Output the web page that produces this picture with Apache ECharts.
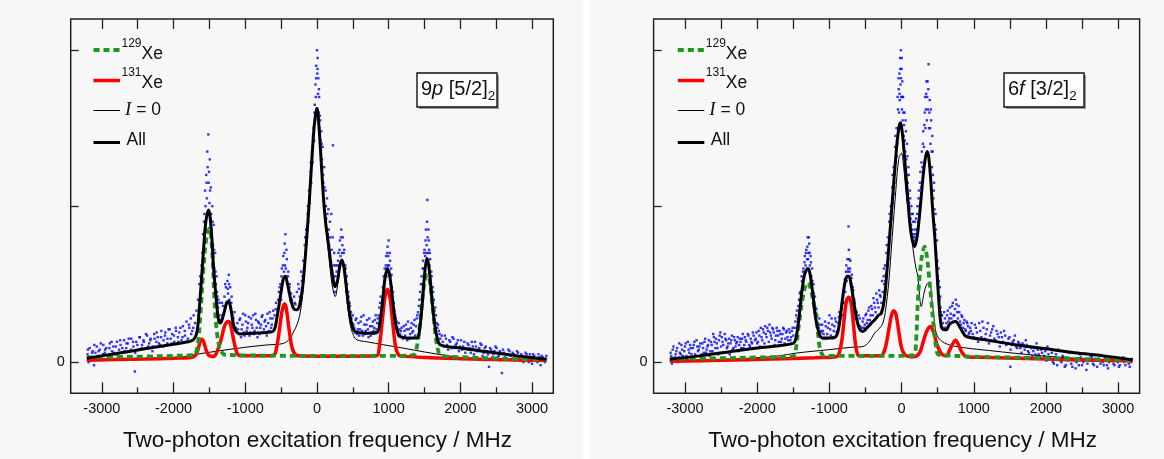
<!DOCTYPE html>
<html>
<head>
<meta charset="utf-8">
<script src="https://cdn.jsdelivr.net/npm/echarts@6/dist/echarts.min.js"></script>
<style>html,body{margin:0;padding:0;background:#fff}#c{width:1164px;height:459px}</style>
</head>
<body>
<div id="c"></div>
<script>
// ---------- tick values ----------
const xMajorTicks = [-3000,-2000,-1000,0,1000,2000,3000];
const xMinorTicks = [-2500,-1500,-500,500,1500,2500];
const xTopTicks = [-3000,-2500,-2000,-1500,-1000,-500,0,500,1000,1500,2000,2500,3000];
const yTicks = [0,1,2];
const yLabelTicks = [0];
const xAxisTitle = 'Two-photon excitation frequency / MHz';
const legendNames = ['129Xe','131Xe','I = 0','All'];

// ---------- panel 1 : 9p[5/2]2 ----------
const p1Dots = [[-3200,0.05],[-3185,0.0],[-3170,0.09],[-3150,0.03],[-3130,0.07],[-3110,-0.02],[-3090,0.06],[-3070,0.1],[-3050,0.04],[-3030,0.08],[-3000,0.02],[-2980,0.11],[-2960,0.06],[-2940,0.09],[-2910,0.04],[-2890,0.12],[-2860,0.07],[-2840,0.1],[-2810,0.05],[-2790,0.13],[-2760,0.08],[-2740,0.11],[-2710,0.06],[-2690,0.14],[-2660,0.09],[-2640,0.12],[-2610,0.07],[-2590,0.15],[-2560,0.1],[-2540,-0.06],[-2520,0.13],[-2490,0.08],[-2470,0.16],[-2440,0.11],[-2420,0.14],[-2390,0.09],[-2370,0.17],[-2340,0.12],[-2320,0.15],[-2290,0.1],[-2270,0.18],[-2240,0.13],[-2220,0.16],[-2190,0.11],[-2170,0.2],[-2140,0.14],[-2120,0.17],[-2090,0.12],[-2070,0.21],[-2040,0.15],[-2020,0.18],[-1990,0.13],[-1970,0.22],[-1940,0.16],[-1920,0.19],[-1890,0.14],[-1870,0.23],[-1840,0.17],[-1820,0.26],[-1800,0.15],[-1780,0.22],[-1760,0.28],[-1740,0.2],[-1720,0.3],
[-1700,0.25],[-1680,0.33],[-1660,0.4],[-1650,0.3],[-1630,0.55],[-1620,0.45],[-1600,0.7],[-1590,0.82],[-1580,0.6],[-1570,0.95],[-1560,1.1],[-1550,0.85],[-1545,1.2],[-1535,1.05],[-1525,1.25],[-1520,0.95],[-1515,1.46],[-1510,1.15],[-1500,1.02],[-1495,1.3],[-1485,0.9],[-1480,1.12],[-1470,0.85],[-1460,1.0],[-1450,0.75],[-1440,0.88],[-1430,0.6],[-1420,0.7],[-1410,0.5],[-1400,0.55],[-1390,0.42],[-1380,0.35],[-1370,0.3],[-1360,0.38],[-1350,0.27],
[-1330,0.3],[-1310,0.36],[-1290,0.42],[-1270,0.48],[-1260,0.38],[-1250,0.52],[-1240,0.44],[-1230,0.56],[-1220,0.4],[-1210,0.48],[-1200,0.35],[-1190,0.42],[-1180,0.3],[-1170,0.26],[-1150,0.32],[-1130,0.22],
[-1110,0.25],[-1090,0.18],[-1070,0.28],[-1050,0.21],[-1030,0.31],[-1010,0.17],[-990,0.26],[-970,0.22],[-950,0.29],[-930,0.19],[-910,0.24],[-890,0.3],[-870,0.2],[-850,0.27],[-830,0.16],[-810,0.25],[-790,0.22],[-770,0.29],[-750,0.19],[-730,0.26],[-710,0.23],[-690,0.31],[-670,0.2],[-650,0.28],[-630,0.24],[-610,0.33],
[-590,0.3],[-570,0.38],[-550,0.33],[-530,0.45],[-510,0.5],[-500,0.4],[-490,0.6],[-480,0.52],[-470,0.68],[-460,0.58],[-450,0.76],[-445,0.62],[-440,0.82],[-430,0.55],[-420,0.66],[-410,0.5],[-400,0.58],[-390,0.45],[-380,0.5],[-370,0.4],[-360,0.44],[-340,0.36],[-320,0.42],[-300,0.37],[-280,0.45],
[-260,0.5],[-240,0.42],[-220,0.58],[-200,0.55],[-190,0.65],[-180,0.6],[-170,0.75],[-160,0.7],[-150,0.85],[-140,0.8],[-130,0.95],[-120,0.9],[-110,1.1],[-100,1.02],[-90,1.22],[-80,1.15],[-70,1.35],[-60,1.28],[-50,1.5],[-40,1.42],[-30,1.65],[-25,1.55],[-20,1.78],[-15,1.7],[-10,1.9],[-5,1.62],[0,2.0],[5,1.85],[10,1.95],[15,1.72],[20,1.82],[25,1.6],[30,1.7],[35,1.5],[40,1.58],[50,1.42],[60,1.48],[70,1.3],[80,1.38],[90,1.15],[100,1.25],[110,1.0],[120,1.1],[130,0.92],[140,1.05],[150,0.82],[160,0.98],[170,0.75],[180,0.9],[190,0.65],[200,0.95],[210,0.56],[220,0.8],[223,1.39],[230,0.5],[240,0.7],[250,0.45],[260,0.62],
[270,0.5],[280,0.62],[290,0.55],[300,0.7],[310,0.62],[320,0.78],[330,0.68],[340,0.85],[350,0.7],[360,0.8],[370,0.62],[380,0.72],[390,0.55],[400,0.6],[410,0.45],[420,0.5],[430,0.38],[440,0.42],[450,0.32],[460,0.36],[480,0.28],[500,0.3],
[520,0.22],[540,0.27],[560,0.18],[580,0.25],[600,0.21],[620,0.29],[640,0.17],[660,0.24],[680,0.2],[700,0.27],[720,0.16],[740,0.23],[760,0.19],[780,0.26],[800,0.22],[820,0.3],[840,0.25],
[860,0.3],[880,0.38],[900,0.33],[920,0.48],[940,0.52],[950,0.45],[960,0.62],[970,0.55],[980,0.7],[990,0.62],[1000,0.78],[1010,0.58],[1020,0.65],[1030,0.5],[1040,0.56],[1050,0.42],[1060,0.45],[1080,0.33],[1100,0.28],[1120,0.22],[1140,0.25],
[1160,0.18],[1180,0.22],[1200,0.15],[1220,0.2],[1240,0.24],[1260,0.14],[1280,0.21],[1300,0.18],[1320,0.25],[1340,0.2],[1360,0.27],[1380,0.23],
[1400,0.3],[1420,0.36],[1440,0.45],[1460,0.55],[1470,0.5],[1480,0.65],[1490,0.6],[1500,0.72],[1510,0.68],[1520,0.85],[1530,0.75],[1540,1.04],[1545,0.8],[1550,0.7],[1560,0.78],[1570,0.62],[1580,0.66],[1590,0.5],[1600,0.55],[1610,0.42],[1620,0.45],[1640,0.33],[1660,0.3],[1680,0.22],[1700,0.2],[1720,0.15],
[1740,0.17],[1770,0.1],[1800,0.15],[1830,0.08],[1860,0.13],[1890,0.16],[1920,0.09],[1950,0.12],[1980,0.07],[2010,0.14],[2040,0.1],[2070,0.06],[2100,0.12],[2130,0.09],[2160,0.13],[2190,0.05],[2220,0.1],[2250,0.08],[2280,0.12],[2310,0.04],[2340,0.09],[2370,0.07],[2400,-0.03],[2430,0.08],[2460,0.05],[2490,0.1],[2520,0.03],[2550,0.07],[2580,-0.07],[2610,0.06],[2640,0.02],[2670,0.08],[2700,0.04],[2730,0.06],[2760,0.01],[2790,0.07],[2820,0.03],[2850,0.05],[2880,0.0],[2910,0.06],[2940,0.02],[2970,0.05],[3000,-0.01],[3030,0.04],[3060,0.01],[3090,0.05],[3120,-0.02],[3150,0.03],[3180,0.0],[3200,0.04]];

const p1DotsExtra = [[-3195,0.08],[-3165,0.02],[-3135,0.06],[-3105,0.11],[-3075,0.03],[-3045,0.07],[-3015,0.12],[-2985,0.05],[-2955,0.08],[-2925,0.02],[-2895,0.09],[-2865,0.13],[-2835,0.06],[-2805,0.1],[-2775,0.04],[-2745,0.14],[-2715,0.09],[-2685,0.07],[-2655,0.12],[-2625,0.15],[-2595,0.08],[-2565,0.13],[-2535,0.06],[-2505,0.11],[-2475,0.16],[-2445,0.09],[-2415,0.13],[-2385,0.18],[-2355,0.1],[-2325,0.14],[-2295,0.07],[-2265,0.15],[-2235,0.19],[-2205,0.12],[-2175,0.16],[-2145,0.1],[-2115,0.19],[-2085,0.15],[-2055,0.21],[-2025,0.12],[-1995,0.17],[-1965,0.2],[-1935,0.13],[-1905,0.22],[-1875,0.16],[-1845,0.2],[-1815,0.13],[-1785,0.24],[-1755,0.18],[-1725,0.22],
[-1640,0.5],[-1610,0.62],[-1575,0.9],[-1555,1.0],[-1540,1.15],[-1530,1.35],[-1505,1.22],[-1490,1.1],[-1475,0.95],[-1455,0.9],[-1435,0.72],[-1415,0.58],[-1395,0.45],[-1375,0.4],[-1325,0.38],[-1280,0.5],[-1245,0.47],[-1225,0.5],[-1195,0.38],[-1165,0.28],
[-1100,0.21],[-1080,0.27],[-1060,0.16],[-1040,0.24],[-1020,0.19],[-1000,0.3],[-980,0.2],[-960,0.25],[-940,0.17],[-920,0.28],[-900,0.22],[-880,0.18],[-860,0.31],[-840,0.22],[-820,0.26],[-800,0.18],[-780,0.24],[-760,0.3],[-740,0.21],[-720,0.27],[-700,0.17],[-680,0.25],[-660,0.32],[-640,0.22],[-620,0.28],
[-575,0.34],[-540,0.4],[-520,0.48],[-495,0.55],[-475,0.62],[-455,0.7],[-435,0.6],[-425,0.72],[-405,0.55],[-385,0.48],[-350,0.4],[-310,0.38],
[-250,0.47],[-210,0.52],[-165,0.8],[-125,1.0],[-85,1.28],[-55,1.45],[-35,1.6],[-12,1.82],[8,1.88],[28,1.75],[45,1.55],[65,1.4],[85,1.2],[105,1.12],[125,1.0],[145,0.95],[165,0.85],[185,0.8],[205,0.72],[235,0.62],[255,0.55],[275,0.58],[295,0.65],[315,0.72],[335,0.8],[355,0.75],[375,0.7],[395,0.62],[415,0.55],[435,0.45],[455,0.38],[475,0.32],[490,0.25],
[510,0.24],[530,0.19],[550,0.28],[570,0.21],[590,0.17],[610,0.26],[630,0.2],[650,0.3],[670,0.18],[690,0.24],[710,0.21],[730,0.28],[750,0.17],[770,0.23],[790,0.2],[810,0.27],[830,0.21],[850,0.28],
[870,0.35],[890,0.42],[910,0.4],[930,0.55],[945,0.6],[965,0.68],[975,0.6],[985,0.74],[995,0.68],[1005,0.62],[1015,0.7],[1025,0.55],[1035,0.6],[1045,0.48],[1070,0.38],[1090,0.3],[1110,0.26],[1130,0.2],[1150,0.21],
[1170,0.2],[1190,0.16],[1210,0.23],[1230,0.17],[1250,0.21],[1270,0.26],[1290,0.15],[1310,0.22],[1330,0.19],[1350,0.24],[1370,0.17],[1390,0.28],
[1410,0.32],[1430,0.4],[1450,0.5],[1475,0.6],[1495,0.7],[1515,0.78],[1525,0.7],[1535,0.9],[1555,0.85],[1565,0.72],[1575,0.7],[1595,0.58],[1615,0.48],[1630,0.4],[1650,0.35],[1670,0.25],[1690,0.24],[1710,0.18],
[1755,0.13],[1785,0.17],[1815,0.11],[1845,0.14],[1875,0.09],[1905,0.15],[1935,0.11],[1965,0.14],[1995,0.1],[2025,0.08],[2055,0.13],[2085,0.09],[2115,0.11],[2145,0.06],[2175,0.1],[2205,0.13],[2235,0.07],[2265,0.09],[2295,0.11],[2325,0.06],[2355,0.1],[2385,0.05],[2415,0.09],[2445,0.03],[2475,0.07],[2505,0.09],[2535,0.04],[2565,0.06],[2595,0.08],[2625,0.03],[2655,0.05],[2685,0.07],[2715,0.02],[2745,0.05],[2775,0.04],[2805,0.06],[2835,0.01],[2865,0.04],[2895,0.03],[2925,0.05],[2955,0.0],[2985,0.03],[3015,0.05],[3045,0.02],[3075,0.0],[3105,0.03],[3135,0.04],[3165,0.01],[3195,0.02]];

const p1All = [[-3210,0.025],[-2800,0.055],[-2400,0.085],[-2000,0.115],[-1800,0.13],[-1720,0.145],[-1675,0.19],[-1640,0.35],[-1600,0.6],[-1582,0.72],[-1550,0.9],[-1512,0.975],[-1490,0.93],[-1460,0.75],[-1443,0.61],[-1400,0.38],[-1373,0.27],[-1349,0.25],[-1300,0.31],[-1260,0.38],[-1233,0.39],[-1200,0.34],[-1160,0.23],[-1116,0.19],[-1050,0.18],[-900,0.185],[-700,0.19],[-605,0.2],[-560,0.28],[-510,0.42],[-470,0.53],[-442,0.55],[-410,0.5],[-360,0.39],[-320,0.34],[-279,0.335],[-240,0.37],[-200,0.48],[-150,0.75],[-100,1.08],[-60,1.38],[-30,1.55],[0,1.627],[30,1.5],[60,1.28],[93,1.04],[120,0.9],[140,0.826],[170,0.72],[210,0.58],[255,0.484],[290,0.53],[320,0.62],[349,0.655],[380,0.6],[420,0.44],[460,0.3],[511,0.207],[570,0.19],[700,0.185],[837,0.19],[880,0.26],[920,0.41],[950,0.54],[986,0.6],[1020,0.54],[1060,0.38],[1100,0.24],[1140,0.17],[1163,0.164],[1250,0.155],[1395,0.154],[1430,0.2],[1470,0.38],[1505,0.58],[1535,0.666],[1565,0.6],[1600,0.42],[1640,0.25],[1680,0.15],[1721,0.111],[2000,0.09],[2400,0.065],[2800,0.04],[3200,0.018]];

const p1I0 = [[-3210,0.008],[-2800,0.012],[-2400,0.018],[-2000,0.025],[-1720,0.047],[-1400,0.07],[-1000,0.095],[-700,0.11],[-466,0.12],[-380,0.15],[-320,0.2],[-279,0.24],[-240,0.3],[-200,0.43],[-150,0.72],[-100,1.06],[-60,1.37],[-30,1.54],[0,1.62],[30,1.49],[60,1.27],[93,1.03],[120,0.88],[140,0.8],[170,0.66],[210,0.5],[255,0.42],[290,0.5],[320,0.6],[349,0.64],[380,0.57],[420,0.4],[460,0.25],[511,0.17],[558,0.143],[700,0.13],[930,0.111],[1200,0.09],[1500,0.065],[1767,0.045],[2000,0.03],[2400,0.018],[2800,0.01],[3200,0.005]];

const p1Xe131 = [[-3210,0.012],[-2800,0.016],[-2400,0.02],[-2000,0.025],[-1760,0.03],[-1700,0.04],[-1660,0.08],[-1630,0.13],[-1605,0.147],[-1580,0.13],[-1540,0.07],[-1500,0.04],[-1443,0.036],[-1400,0.06],[-1340,0.14],[-1290,0.23],[-1260,0.255],[-1233,0.26],[-1205,0.24],[-1170,0.16],[-1130,0.08],[-1093,0.045],[-1000,0.04],[-700,0.04],[-600,0.045],[-560,0.1],[-520,0.22],[-490,0.32],[-465,0.365],[-452,0.373],[-430,0.35],[-400,0.25],[-360,0.12],[-320,0.06],[-256,0.04],[0,0.038],[500,0.038],[830,0.04],[870,0.1],[910,0.26],[950,0.42],[986,0.467],[1020,0.41],[1060,0.24],[1100,0.09],[1140,0.045],[1163,0.04],[1500,0.03],[2000,0.022],[2600,0.015],[3200,0.01]];

const p1Xe129 = [[-3210,0.03],[-2800,0.033],[-2400,0.036],[-2000,0.04],[-1750,0.045],[-1700,0.05],[-1660,0.12],[-1628,0.29],[-1582,0.61],[-1540,0.8],[-1499,0.858],[-1460,0.7],[-1430,0.4],[-1395,0.19],[-1350,0.08],[-1300,0.05],[-1279,0.047],[-1000,0.043],[0,0.04],[1000,0.04],[1340,0.045],[1390,0.09],[1430,0.22],[1470,0.4],[1510,0.54],[1544,0.559],[1580,0.5],[1620,0.33],[1660,0.15],[1700,0.06],[1740,0.04],[2000,0.032],[2600,0.022],[3200,0.015]];

// ---------- panel 2 : 6f[3/2]2 ----------
const p2Dots = [[-3200,0.06],[-3180,-0.01],[-3160,0.1],[-3140,0.03],[-3120,0.07],[-3100,0.0],[-3080,0.12],[-3060,0.05],[-3040,0.08],[-3020,0.02],[-3000,0.1],[-2980,0.04],[-2960,0.13],[-2940,0.06],[-2920,0.09],[-2900,0.01],[-2880,0.11],[-2860,0.05],[-2840,0.14],[-2820,0.07],[-2800,0.1],[-2780,0.03],[-2760,0.12],[-2740,0.06],[-2720,0.15],[-2700,0.08],[-2680,0.11],[-2660,0.04],[-2640,0.13],[-2620,0.07],[-2600,0.16],[-2580,0.09],[-2560,0.12],[-2540,0.05],[-2520,0.17],[-2500,0.1],[-2480,0.13],[-2460,0.06],[-2440,0.15],[-2420,0.09],[-2400,0.12],[-2380,0.05],[-2360,0.14],[-2340,0.08],[-2320,0.16],[-2300,0.1],[-2280,0.13],[-2260,0.07],[-2240,0.15],[-2220,0.09],[-2200,0.18],[-2180,0.11],[-2160,0.14],[-2140,0.08],[-2120,0.17],[-2100,0.1],[-2080,0.13],[-2060,0.19],[-2040,0.09],[-2020,0.15],[-2000,0.12],[-1980,0.2],[-1960,0.1],[-1940,0.16],[-1920,0.21],[-1900,0.12],[-1880,0.18],[-1860,0.22],[-1840,0.13],[-1820,0.19],[-1800,0.15],[-1780,0.21],[-1760,0.11],[-1740,0.17],[-1720,0.2],[-1700,0.13],[-1680,0.18],[-1660,0.15],[-1640,0.22],[-1620,0.12],[-1600,0.19],[-1580,0.16],[-1560,0.21],[-1540,0.14],[-1520,0.2],[-1500,0.17],
[-1480,0.22],[-1460,0.3],[-1440,0.28],[-1420,0.4],[-1400,0.45],[-1390,0.38],[-1380,0.52],[-1370,0.48],[-1360,0.6],[-1350,0.55],[-1340,0.68],[-1330,0.62],[-1320,0.72],[-1310,0.66],[-1300,0.8],[-1290,0.7],[-1280,0.76],[-1270,0.62],[-1260,0.68],[-1250,0.55],[-1240,0.6],[-1230,0.45],[-1220,0.5],[-1210,0.38],[-1200,0.42],[-1190,0.3],[-1180,0.34],[-1160,0.25],[-1140,0.28],[-1120,0.2],[-1100,0.24],
[-1080,0.18],[-1060,0.26],[-1040,0.15],[-1020,0.22],[-1000,0.3],[-980,0.17],[-960,0.24],[-940,0.2],[-920,0.28],[-900,0.19],[-880,0.25],[-860,0.32],
[-850,0.28],[-830,0.34],[-820,0.3],[-810,0.42],[-800,0.38],[-790,0.5],[-780,0.45],[-770,0.58],[-760,0.52],[-750,0.66],[-740,0.6],[-735,0.87],[-730,0.72],[-720,0.58],[-710,0.65],[-700,0.5],[-690,0.56],[-680,0.42],[-670,0.46],[-660,0.35],[-650,0.38],[-640,0.28],[-620,0.32],[-600,0.24],[-580,0.28],[-560,0.2],
[-540,0.26],[-520,0.22],[-500,0.3],[-480,0.25],[-460,0.33],[-440,0.27],[-420,0.36],[-400,0.3],[-380,0.38],[-360,0.32],[-340,0.4],[-320,0.35],[-300,0.43],[-280,0.38],
[-260,0.45],[-250,0.55],[-240,0.5],[-230,0.62],[-220,0.56],[-210,0.7],[-200,0.62],[-190,0.8],[-180,0.72],[-170,0.9],[-160,0.82],[-150,1.0],[-140,0.92],[-130,1.12],[-120,1.02],[-110,1.25],[-100,1.15],[-90,1.38],[-80,1.28],[-70,1.5],[-60,1.4],[-50,1.62],[-45,1.5],[-40,1.75],[-35,1.6],[-30,1.85],[-25,1.68],[-20,1.95],[-15,1.78],[-10,2.0],[-5,1.7],[0,1.88],[5,1.62],[10,1.8],[15,1.55],[20,1.7],[30,1.45],[40,1.6],[50,1.35],[60,1.48],[70,1.2],[80,1.32],[90,1.08],[100,1.2],[110,0.98],[120,1.05],[130,0.88],[140,0.95],[150,0.8],[160,0.9],[170,0.75],[180,0.85],[190,0.78],[200,0.92],
[210,0.85],[220,1.0],[230,0.9],[240,1.1],[250,1.0],[260,1.22],[270,1.12],[280,1.35],[290,1.25],[300,1.48],[310,1.38],[320,1.6],[330,1.5],[340,1.72],[350,1.55],[360,1.8],[365,1.62],[374,1.91],[380,1.5],[390,1.68],[400,1.4],[410,1.55],[420,1.25],[430,1.35],[440,1.05],[450,1.15],[460,0.88],[470,0.95],[480,0.7],[490,0.78],[500,0.55],[510,0.6],[520,0.42],[530,0.48],[540,0.35],[550,0.3],
[570,0.25],[590,0.32],[610,0.22],[630,0.3],[650,0.26],[670,0.35],[690,0.28],[710,0.38],[730,0.3],[750,0.4],[770,0.32],[790,0.36],[810,0.26],[830,0.3],[850,0.22],[870,0.27],[890,0.2],[910,0.25],[930,0.18],[950,0.22],
[970,0.25],[1000,0.16],[1030,0.22],[1060,0.13],[1090,0.2],[1120,0.26],[1150,0.15],[1180,0.21],[1210,0.12],[1240,0.19],[1270,0.23],[1300,0.14],[1330,0.18],[1360,0.1],[1390,0.16],[1420,0.2],[1450,0.11],[1480,0.15],[1506,-0.03],[1510,0.08],[1540,0.13],[1570,0.17],[1600,0.09],[1630,0.12],[1660,0.06],[1690,0.11],[1720,0.14],[1750,0.07],[1780,0.1],[1810,0.04],[1840,0.09],[1870,0.12],[1900,0.05],[1930,0.08],[1960,0.02],[1990,0.07],[2020,0.1],[2050,0.03],[2080,0.06],[2110,-0.01],[2140,0.05],[2170,0.08],[2200,0.01],[2230,0.04],[2260,-0.03],[2290,0.03],[2320,0.06],[2350,-0.01],[2380,0.02],[2410,-0.04],[2440,0.02],[2470,0.05],[2500,-0.02],[2530,0.01],[2560,-0.05],[2590,0.02],[2620,0.04],[2650,-0.01],[2680,0.02],[2710,-0.03],[2740,0.01],[2770,0.04],[2800,-0.02],[2830,0.02],[2860,-0.04],[2890,0.01],[2920,0.03],[2950,-0.02],[2980,0.01],[3010,-0.03],[3040,0.02],[3070,0.03],[3100,-0.02],[3130,0.01],[3160,-0.03],[3190,0.02]];

const p2DotsExtra = [[-3190,0.04],[-3170,0.08],[-3150,0.01],[-3130,0.05],[-3110,0.09],[-3090,0.03],[-3070,0.06],[-3050,0.11],[-3030,0.04],[-3010,0.07],[-2990,0.12],[-2970,0.02],[-2950,0.08],[-2930,0.11],[-2910,0.05],[-2890,0.09],[-2870,0.13],[-2850,0.04],[-2830,0.1],[-2810,0.08],[-2790,0.12],[-2770,0.05],[-2750,0.09],[-2730,0.13],[-2710,0.06],[-2690,0.1],[-2670,0.14],[-2650,0.07],[-2630,0.11],[-2610,0.18],[-2590,0.13],[-2570,0.15],[-2550,0.09],[-2530,0.14],[-2510,0.19],[-2490,0.16],[-2470,0.11],[-2450,0.18],[-2430,0.14],[-2410,0.1],[-2390,0.15],[-2370,0.12],[-2350,0.17],[-2330,0.09],[-2310,0.14],[-2290,0.12],[-2270,0.16],[-2250,0.11],[-2230,0.13],[-2210,0.15],[-2190,0.09],[-2170,0.16],[-2150,0.13],[-2130,0.18],[-2110,0.11],[-2090,0.15],[-2070,0.12],[-2050,0.17],[-2030,0.14],[-2010,0.19],[-1990,0.13],[-1970,0.17],[-1950,0.22],[-1930,0.14],[-1910,0.19],[-1890,0.23],[-1870,0.16],[-1850,0.2],[-1830,0.24],[-1810,0.17],[-1790,0.22],[-1770,0.19],[-1750,0.14],[-1730,0.22],[-1710,0.17],[-1690,0.2],[-1670,0.13],[-1650,0.18],[-1630,0.21],[-1610,0.15],[-1590,0.2],[-1570,0.14],[-1550,0.19],[-1530,0.16],[-1510,0.22],
[-1470,0.26],[-1450,0.33],[-1430,0.36],[-1410,0.44],[-1385,0.55],[-1365,0.58],[-1345,0.64],[-1325,0.7],[-1305,0.74],[-1295,0.66],[-1285,0.8],[-1275,0.7],[-1255,0.64],[-1235,0.52],[-1215,0.44],[-1195,0.35],[-1170,0.3],[-1150,0.22],[-1130,0.24],[-1110,0.19],
[-1090,0.2],[-1070,0.15],[-1050,0.23],[-1030,0.18],[-1010,0.25],[-990,0.21],[-970,0.28],[-950,0.16],[-930,0.23],[-910,0.26],[-890,0.2],[-870,0.29],
[-845,0.31],[-825,0.37],[-805,0.46],[-785,0.53],[-765,0.62],[-745,0.58],[-725,0.66],[-715,0.6],[-695,0.54],[-675,0.48],[-655,0.4],[-635,0.33],[-615,0.27],[-595,0.3],[-575,0.23],
[-550,0.22],[-530,0.28],[-510,0.24],[-490,0.31],[-470,0.27],[-450,0.35],[-430,0.3],[-410,0.34],[-390,0.41],[-370,0.35],[-350,0.44],[-330,0.38],[-310,0.46],[-290,0.42],[-270,0.52],
[-245,0.6],[-225,0.52],[-205,0.75],[-185,0.66],[-165,0.95],[-145,0.88],[-125,1.2],[-105,1.08],[-85,1.45],[-65,1.32],[-55,1.7],[-42,1.82],[-28,1.72],[-18,1.88],[-8,1.82],[2,1.95],[12,1.7],[25,1.6],[35,1.52],[45,1.42],[55,1.55],[65,1.3],[75,1.4],[85,1.15],[95,1.25],[105,1.02],[115,1.1],[125,0.92],[135,1.0],[145,0.85],[155,0.95],[165,0.82],[175,0.8],[185,0.9],[195,0.82],
[215,0.95],[235,1.05],[255,1.15],[275,1.28],[295,1.4],[315,1.52],[325,1.7],[335,1.62],[345,1.8],[355,1.7],[370,1.75],[385,1.6],[395,1.5],[405,1.62],[415,1.35],[425,1.45],[435,1.2],[445,1.1],[455,0.98],[465,0.82],[475,0.85],[485,0.62],[495,0.65],[505,0.5],[515,0.52],[525,0.4],[535,0.42],[545,0.32],
[560,0.3],[580,0.22],[600,0.28],[620,0.25],[640,0.33],[660,0.28],[680,0.31],[700,0.36],[720,0.3],[740,0.34],[760,0.37],[780,0.28],[800,0.32],[820,0.24],[840,0.29],[860,0.25],[880,0.21],[900,0.26],[920,0.23],[940,0.19],[960,0.2],
[985,0.18],[1015,0.24],[1045,0.19],[1075,0.25],[1105,0.16],[1135,0.22],[1165,0.18],[1195,0.25],[1225,0.17],[1255,0.21],[1285,0.15],[1315,0.2],[1345,0.16],[1375,0.19],[1405,0.13],[1435,0.17],[1465,0.12],[1495,0.16],[1525,0.11],[1555,0.14],[1585,0.1],[1615,0.13],[1645,0.09],[1675,0.12],[1705,0.08],[1735,0.11],[1765,0.06],[1795,0.09],[1825,0.07],[1855,0.05],[1885,0.08],[1915,0.03],[1945,0.06],[1975,0.04],[2005,0.01],[2035,0.05],[2065,0.02],[2095,0.0],[2125,0.03],[2155,-0.02],[2185,0.02],[2215,0.0],[2245,0.03],[2275,-0.02],[2305,0.01],[2335,0.02],[2365,-0.03],[2395,0.01],[2425,0.0],[2455,-0.02],[2485,0.03],[2515,0.0],[2545,0.02],[2575,-0.01],[2605,0.01],[2635,0.03],[2665,-0.02],[2695,0.01],[2725,0.02],[2755,-0.01],[2785,0.0],[2815,0.03],[2845,-0.02],[2875,0.0],[2905,0.02],[2935,-0.01],[2965,0.02],[2995,0.0],[3025,-0.02],[3055,0.01],[3085,0.0],[3115,0.02],[3145,-0.01],[3175,0.0]];

const p2All = [[-3210,0.019],[-2800,0.04],[-2400,0.065],[-2000,0.09],[-1700,0.105],[-1505,0.12],[-1470,0.14],[-1430,0.25],[-1390,0.42],[-1350,0.55],[-1320,0.59],[-1297,0.6],[-1270,0.57],[-1230,0.44],[-1190,0.28],[-1140,0.18],[-1100,0.155],[-1066,0.154],[-960,0.155],[-900,0.17],[-860,0.25],[-820,0.4],[-780,0.52],[-750,0.55],[-730,0.55],[-700,0.5],[-660,0.38],[-620,0.27],[-580,0.21],[-536,0.196],[-480,0.22],[-420,0.25],[-374,0.27],[-320,0.3],[-281,0.314],[-240,0.4],[-200,0.6],[-150,0.9],[-100,1.2],[-60,1.42],[-30,1.52],[-14,1.535],[10,1.47],[40,1.32],[87,1.04],[130,0.83],[180,0.74],[220,0.82],[260,1.0],[300,1.2],[330,1.31],[356,1.35],[390,1.25],[430,0.98],[460,0.8],[480,0.655],[515,0.4],[550,0.228],[585,0.207],[619,0.207],[660,0.24],[700,0.255],[748,0.26],[800,0.23],[850,0.19],[896,0.164],[1200,0.14],[1600,0.11],[2000,0.085],[2400,0.06],[2800,0.04],[3200,0.015]];

const p2I0 = [[-3210,0.005],[-2800,0.01],[-2400,0.018],[-2000,0.028],[-1700,0.04],[-1459,0.058],[-1000,0.08],[-700,0.095],[-536,0.1],[-450,0.13],[-374,0.186],[-300,0.22],[-259,0.25],[-220,0.34],[-180,0.5],[-130,0.8],[-80,1.1],[-40,1.3],[-4,1.34],[30,1.25],[70,1.05],[111,0.93],[160,0.72],[200,0.6],[226,0.55],[250,0.42],[272,0.356],[310,0.44],[350,0.5],[388,0.506],[420,0.4],[450,0.28],[480,0.186],[540,0.14],[665,0.11],[900,0.09],[1200,0.075],[1600,0.055],[2050,0.036],[2500,0.022],[2900,0.012],[3200,0.005]];

const p2Xe131 = [[-3210,0.005],[-2500,0.012],[-1800,0.02],[-1200,0.028],[-900,0.035],[-870,0.05],[-830,0.13],[-790,0.3],[-760,0.4],[-730,0.416],[-700,0.38],[-670,0.26],[-640,0.12],[-610,0.05],[-580,0.04],[-300,0.04],[-260,0.05],[-220,0.1],[-180,0.2],[-140,0.3],[-111,0.33],[-80,0.31],[-40,0.2],[0,0.09],[50,0.045],[120,0.035],[180,0.036],[250,0.06],[300,0.13],[350,0.2],[402,0.228],[450,0.18],[500,0.1],[560,0.05],[619,0.04],[660,0.07],[700,0.11],[748,0.14],[790,0.11],[840,0.06],[900,0.035],[1200,0.03],[2000,0.02],[2700,0.012],[3200,0.008]];

const p2Xe129 = [[-3210,0.02],[-2500,0.025],[-2000,0.03],[-1520,0.035],[-1480,0.05],[-1459,0.1],[-1420,0.25],[-1367,0.42],[-1330,0.49],[-1297,0.51],[-1260,0.47],[-1220,0.38],[-1182,0.29],[-1150,0.15],[-1136,0.1],[-1100,0.05],[-1066,0.04],[-500,0.04],[0,0.04],[166,0.045],[200,0.13],[226,0.4],[260,0.6],[290,0.7],[319,0.74],[350,0.68],[380,0.55],[411,0.4],[450,0.2],[480,0.09],[503,0.05],[550,0.045],[1000,0.035],[2000,0.025],[3200,0.012]];

const panelLabels = [
  {main1:'9', it:'p', main2:' [5/2]', sub:'2'},
  {main1:'6', it:'f', main2:' [3/2]', sub:'2'}
];

// ---------- layout ----------
const FONT = '"Liberation Sans", Arial, sans-serif';
const XMIN = -3435, XMAX = 3297;
const grids = [
  {left: 70.7, top: 19, width: 482.6, height: 374.3},
  {left: 653.6, top: 19, width: 486, height: 374.3}
];
const GREEN = '#1f961f', RED = '#ff0000', BLUE = '#0000ff';

function xAxesFor(g, titlePad) {
  const base = {type:'value', gridIndex:g, min:XMIN, max:XMAX, splitLine:{show:false}, axisLine:{show:false, onZero:false}};
  return [
    Object.assign({}, base, {
      position:'bottom',
      axisTick:{show:true, inside:true, length:11, customValues:xMajorTicks, lineStyle:{color:'#222', width:1.3}},
      axisLabel:{show:true, customValues:xMajorTicks, margin:8, fontSize:14.5, color:'#111', fontFamily:FONT, formatter: v => String(v)},
      name:xAxisTitle, nameLocation:'middle', nameGap:36,
      nameTextStyle:{fontSize:22.5, color:'#111', fontFamily:FONT, padding:[0,0,0,titlePad]}
    }),
    Object.assign({}, base, {
      position:'bottom',
      axisTick:{show:true, inside:true, length:6, customValues:xMinorTicks, lineStyle:{color:'#222', width:1.3}},
      axisLabel:{show:false}
    }),
    Object.assign({}, base, {
      position:'top',
      axisTick:{show:true, inside:true, length:10, customValues:xTopTicks, lineStyle:{color:'#222', width:1.3}},
      axisLabel:{show:false}
    })
  ];
}
function yAxisFor(g) {
  return {type:'value', gridIndex:g, position:'left', min:-0.2, max:2.2, splitLine:{show:false}, axisLine:{show:false, onZero:false},
    axisTick:{show:true, inside:true, length:8, customValues:yTicks, lineStyle:{color:'#222', width:1.3}},
    axisLabel:{show:true, customValues:yLabelTicks, margin:6, fontSize:14.5, color:'#111', fontFamily:FONT, formatter: v => String(v)}};
}
function seriesFor(g, dots, i0, x131, x129, all) {
  const xi = g*3, yi = g;
  return [
    {type:'scatter', name:'data', xAxisIndex:xi, yAxisIndex:yi, data:dots, symbol:'rect', symbolSize:2.4,
      itemStyle:{color:BLUE}, z:1, silent:true},
    {type:'line', name:legendNames[2], xAxisIndex:xi, yAxisIndex:yi, data:i0, showSymbol:false, smooth:0.35,
      lineStyle:{color:'#000', width:1}, z:2},
    {type:'line', name:legendNames[1], xAxisIndex:xi, yAxisIndex:yi, data:x131, showSymbol:false, smooth:0.35,
      lineStyle:{color:RED, width:3.5}, z:3},
    {type:'line', name:legendNames[0], xAxisIndex:xi, yAxisIndex:yi, data:x129, showSymbol:false, smooth:0.35,
      lineStyle:{color:GREEN, width:3.8, type:[6,4]}, z:4},
    {type:'line', name:legendNames[3], xAxisIndex:xi, yAxisIndex:yi, data:all, showSymbol:false, smooth:0.35,
      lineStyle:{color:'#000', width:3}, z:5}
  ];
}
function legendGraphics(dx) {
  const items = [];
  const lx0 = 93.5 + dx, lx1 = 120 + dx;
  const rows = [
    {y:50, stroke:GREEN, w:3.8, dash:[6,4], text:'{s|129}{n|Xe}', ty:54.5, tx:121.5},
    {y:80.5, stroke:RED, w:3.5, dash:null, text:'{s|131}{n|Xe}', ty:83, tx:121.5},
    {y:110.5, stroke:'#000', w:1, dash:null, text:'{i|I}{n| = 0}', ty:110, tx:125},
    {y:142.5, stroke:'#000', w:3, dash:null, text:'{n|All}', ty:140.3, tx:126.5}
  ];
  rows.forEach(r => {
    items.push({type:'line', z:100, shape:{x1:lx0, y1:r.y, x2:lx1, y2:r.y},
      style:{stroke:r.stroke, lineWidth:r.w, lineDash:r.dash || null}});
    items.push({type:'text', z:100, x:r.tx + dx, y:r.ty, style:{
      text:r.text, textVerticalAlign:'middle', textAlign:'left', fill:'#111',
      rich:{
        n:{fontSize:17.5, fontFamily:FONT, fill:'#111'},
        s:{fontSize:12, fontFamily:FONT, fill:'#111', padding:[0,0,21,0]},
        i:{fontSize:19, fontFamily:'"Liberation Serif", "Times New Roman", serif', fontStyle:'italic', fill:'#111'}
      }}});
  });
  return items;
}
function boxGraphics(x, lab) {
  const y = 73, w = 80, h = 34;
  const t = '{n|' + lab.main1 + '}{i|' + lab.it + '}{n|' + lab.main2 + '}{b|' + lab.sub + '}';
  return [
    {type:'rect', z:99, shape:{x:x+2, y:y+2, width:w, height:h}, style:{fill:'#9a9a9a'}},
    {type:'rect', z:100, shape:{x:x, y:y, width:w, height:h}, style:{fill:'#fdfdfd', stroke:'#111', lineWidth:1.4}},
    {type:'text', z:101, x:x+4, y:y+16.5, style:{text:t, textVerticalAlign:'middle', textAlign:'left',
      rich:{
        n:{fontSize:20, fontFamily:FONT, fill:'#111'},
        i:{fontSize:20, fontFamily:FONT, fontStyle:'italic', fill:'#111'},
        b:{fontSize:13.5, fontFamily:FONT, fill:'#111', padding:[13,0,0,0]}
      }}}
  ];
}

const option = {
  backgroundColor:'#f7f7f7',
  animation:false,
  grid: grids.map(g => Object.assign({show:true, borderColor:'#222', borderWidth:1.5, backgroundColor:'transparent', containLabel:false}, g)),
  xAxis: [].concat(xAxesFor(0, 11), xAxesFor(1, 12)),
  yAxis: [yAxisFor(0), yAxisFor(1)],
  series: [].concat(
    seriesFor(0, p1Dots.concat(p1DotsExtra), p1I0, p1Xe131, p1Xe129, p1All),
    seriesFor(1, p2Dots.concat(p2DotsExtra), p2I0, p2Xe131, p2Xe129, p2All)
  ),
  graphic: {elements: [].concat(
    [{type:'rect', z:-10, shape:{x:583, y:0, width:7, height:459}, style:{fill:'#ffffff'}}],
    legendGraphics(0), legendGraphics(584.3),
    boxGraphics(417, panelLabels[0]), boxGraphics(1004, panelLabels[1])
  )}
};
const chart = echarts.init(document.getElementById('c'), null, {renderer:'canvas'});
chart.setOption(option);
</script>
</body>
</html>
